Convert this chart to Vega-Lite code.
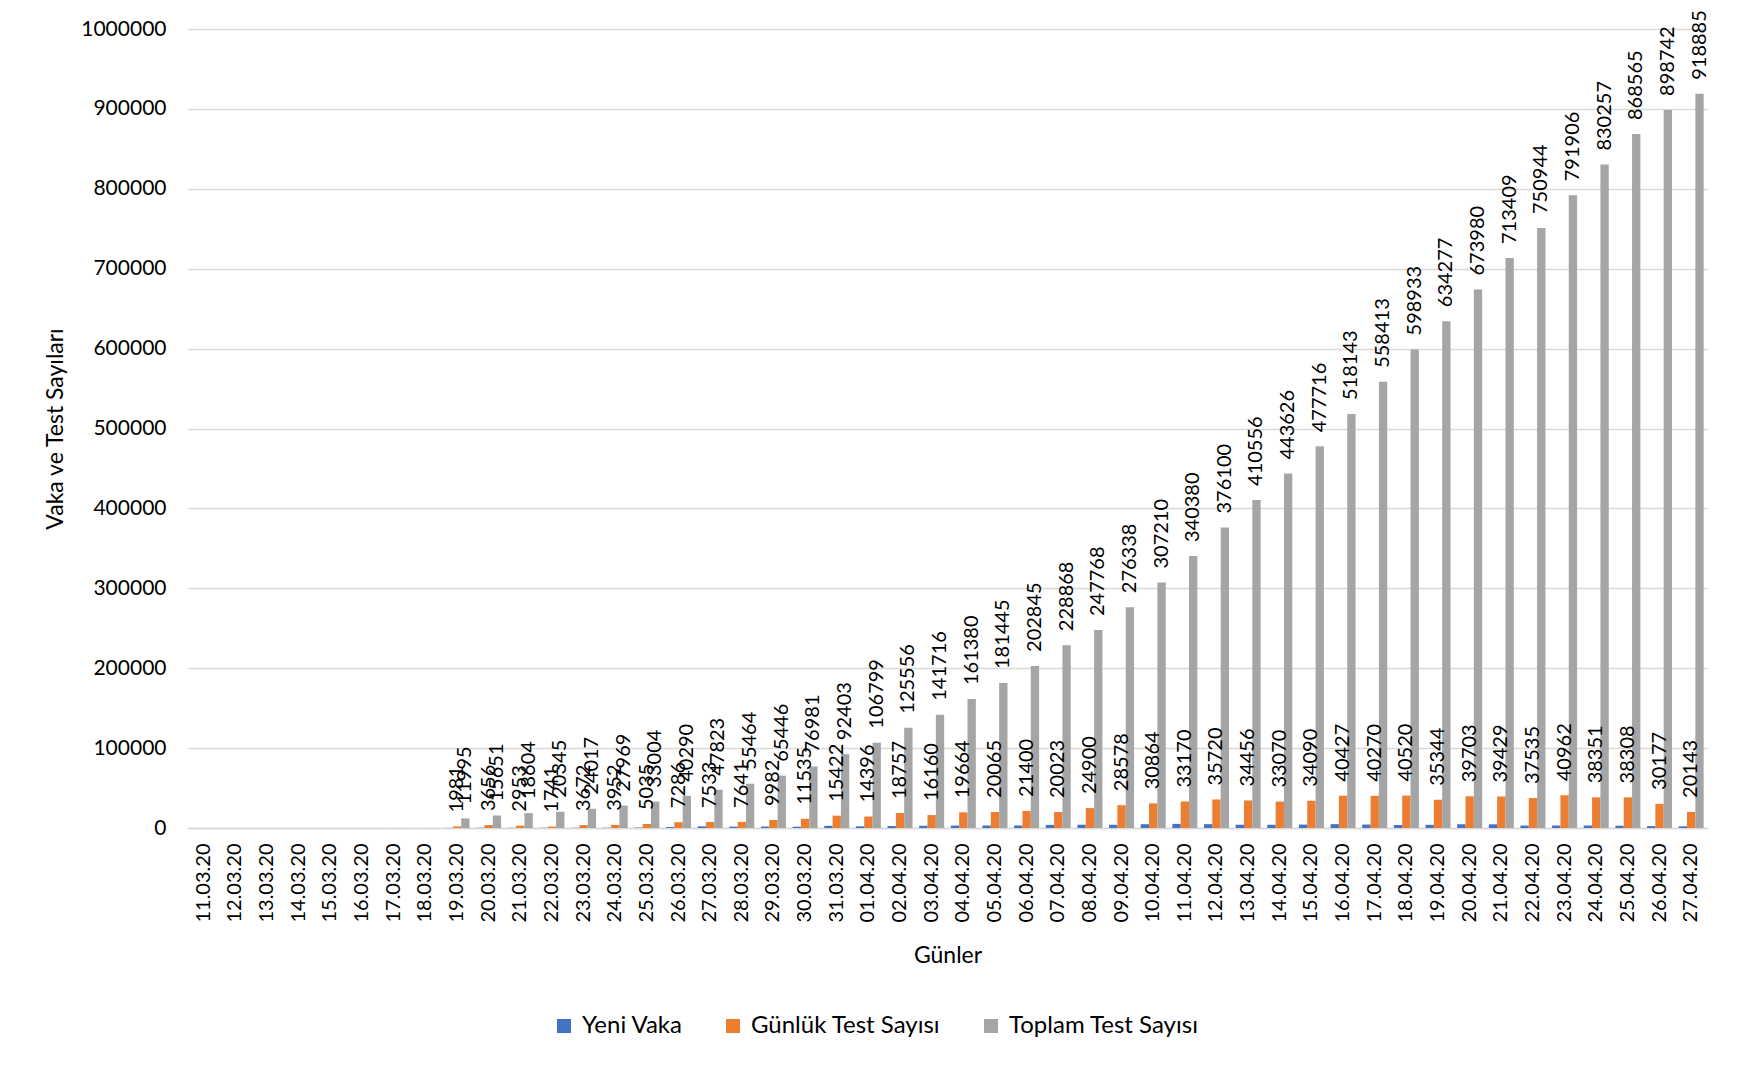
{
  "$schema": "https://vega.github.io/schema/vega-lite/v6.json",
  "width": 1519,
  "height": 799,
  "autosize": {"type": "none"},
  "padding": {"left": 188, "top": 29, "right": 32, "bottom": 240},
  "background": "white",
  "config": {
    "font": "Lato",
    "view": {"stroke": null}
  },
  "data": {"values": [
    {"d":"11.03.20","s":"Yeni Vaka","v":1},
    {"d":"12.03.20","s":"Yeni Vaka","v":0},
    {"d":"13.03.20","s":"Yeni Vaka","v":4},
    {"d":"14.03.20","s":"Yeni Vaka","v":0},
    {"d":"15.03.20","s":"Yeni Vaka","v":12},
    {"d":"16.03.20","s":"Yeni Vaka","v":29},
    {"d":"17.03.20","s":"Yeni Vaka","v":51},
    {"d":"18.03.20","s":"Yeni Vaka","v":93},
    {"d":"19.03.20","s":"Yeni Vaka","v":168},
    {"d":"20.03.20","s":"Yeni Vaka","v":311},
    {"d":"21.03.20","s":"Yeni Vaka","v":277},
    {"d":"22.03.20","s":"Yeni Vaka","v":289},
    {"d":"23.03.20","s":"Yeni Vaka","v":293},
    {"d":"24.03.20","s":"Yeni Vaka","v":343},
    {"d":"25.03.20","s":"Yeni Vaka","v":561},
    {"d":"26.03.20","s":"Yeni Vaka","v":1196},
    {"d":"27.03.20","s":"Yeni Vaka","v":2069},
    {"d":"28.03.20","s":"Yeni Vaka","v":1704},
    {"d":"29.03.20","s":"Yeni Vaka","v":1815},
    {"d":"30.03.20","s":"Yeni Vaka","v":1610},
    {"d":"31.03.20","s":"Yeni Vaka","v":2704},
    {"d":"01.04.20","s":"Yeni Vaka","v":2148},
    {"d":"02.04.20","s":"Yeni Vaka","v":2456},
    {"d":"03.04.20","s":"Yeni Vaka","v":2786},
    {"d":"04.04.20","s":"Yeni Vaka","v":3013},
    {"d":"05.04.20","s":"Yeni Vaka","v":3135},
    {"d":"06.04.20","s":"Yeni Vaka","v":3148},
    {"d":"07.04.20","s":"Yeni Vaka","v":3892},
    {"d":"08.04.20","s":"Yeni Vaka","v":4117},
    {"d":"09.04.20","s":"Yeni Vaka","v":4056},
    {"d":"10.04.20","s":"Yeni Vaka","v":4747},
    {"d":"11.04.20","s":"Yeni Vaka","v":5138},
    {"d":"12.04.20","s":"Yeni Vaka","v":4789},
    {"d":"13.04.20","s":"Yeni Vaka","v":4093},
    {"d":"14.04.20","s":"Yeni Vaka","v":4062},
    {"d":"15.04.20","s":"Yeni Vaka","v":4281},
    {"d":"16.04.20","s":"Yeni Vaka","v":4801},
    {"d":"17.04.20","s":"Yeni Vaka","v":4353},
    {"d":"18.04.20","s":"Yeni Vaka","v":3783},
    {"d":"19.04.20","s":"Yeni Vaka","v":3977},
    {"d":"20.04.20","s":"Yeni Vaka","v":4674},
    {"d":"21.04.20","s":"Yeni Vaka","v":4611},
    {"d":"22.04.20","s":"Yeni Vaka","v":3083},
    {"d":"23.04.20","s":"Yeni Vaka","v":3116},
    {"d":"24.04.20","s":"Yeni Vaka","v":3122},
    {"d":"25.04.20","s":"Yeni Vaka","v":2861},
    {"d":"26.04.20","s":"Yeni Vaka","v":2357},
    {"d":"27.04.20","s":"Yeni Vaka","v":2131},
    {"d":"19.03.20","s":"Günlük Test Sayısı","v":1981},
    {"d":"20.03.20","s":"Günlük Test Sayısı","v":3656},
    {"d":"21.03.20","s":"Günlük Test Sayısı","v":2953},
    {"d":"22.03.20","s":"Günlük Test Sayısı","v":1741},
    {"d":"23.03.20","s":"Günlük Test Sayısı","v":3672},
    {"d":"24.03.20","s":"Günlük Test Sayısı","v":3952},
    {"d":"25.03.20","s":"Günlük Test Sayısı","v":5035},
    {"d":"26.03.20","s":"Günlük Test Sayısı","v":7286},
    {"d":"27.03.20","s":"Günlük Test Sayısı","v":7533},
    {"d":"28.03.20","s":"Günlük Test Sayısı","v":7641},
    {"d":"29.03.20","s":"Günlük Test Sayısı","v":9982},
    {"d":"30.03.20","s":"Günlük Test Sayısı","v":11535},
    {"d":"31.03.20","s":"Günlük Test Sayısı","v":15422},
    {"d":"01.04.20","s":"Günlük Test Sayısı","v":14396},
    {"d":"02.04.20","s":"Günlük Test Sayısı","v":18757},
    {"d":"03.04.20","s":"Günlük Test Sayısı","v":16160},
    {"d":"04.04.20","s":"Günlük Test Sayısı","v":19664},
    {"d":"05.04.20","s":"Günlük Test Sayısı","v":20065},
    {"d":"06.04.20","s":"Günlük Test Sayısı","v":21400},
    {"d":"07.04.20","s":"Günlük Test Sayısı","v":20023},
    {"d":"08.04.20","s":"Günlük Test Sayısı","v":24900},
    {"d":"09.04.20","s":"Günlük Test Sayısı","v":28578},
    {"d":"10.04.20","s":"Günlük Test Sayısı","v":30864},
    {"d":"11.04.20","s":"Günlük Test Sayısı","v":33170},
    {"d":"12.04.20","s":"Günlük Test Sayısı","v":35720},
    {"d":"13.04.20","s":"Günlük Test Sayısı","v":34456},
    {"d":"14.04.20","s":"Günlük Test Sayısı","v":33070},
    {"d":"15.04.20","s":"Günlük Test Sayısı","v":34090},
    {"d":"16.04.20","s":"Günlük Test Sayısı","v":40427},
    {"d":"17.04.20","s":"Günlük Test Sayısı","v":40270},
    {"d":"18.04.20","s":"Günlük Test Sayısı","v":40520},
    {"d":"19.04.20","s":"Günlük Test Sayısı","v":35344},
    {"d":"20.04.20","s":"Günlük Test Sayısı","v":39703},
    {"d":"21.04.20","s":"Günlük Test Sayısı","v":39429},
    {"d":"22.04.20","s":"Günlük Test Sayısı","v":37535},
    {"d":"23.04.20","s":"Günlük Test Sayısı","v":40962},
    {"d":"24.04.20","s":"Günlük Test Sayısı","v":38351},
    {"d":"25.04.20","s":"Günlük Test Sayısı","v":38308},
    {"d":"26.04.20","s":"Günlük Test Sayısı","v":30177},
    {"d":"27.04.20","s":"Günlük Test Sayısı","v":20143},
    {"d":"19.03.20","s":"Toplam Test Sayısı","v":11995},
    {"d":"20.03.20","s":"Toplam Test Sayısı","v":15651},
    {"d":"21.03.20","s":"Toplam Test Sayısı","v":18604},
    {"d":"22.03.20","s":"Toplam Test Sayısı","v":20345},
    {"d":"23.03.20","s":"Toplam Test Sayısı","v":24017},
    {"d":"24.03.20","s":"Toplam Test Sayısı","v":27969},
    {"d":"25.03.20","s":"Toplam Test Sayısı","v":33004},
    {"d":"26.03.20","s":"Toplam Test Sayısı","v":40290},
    {"d":"27.03.20","s":"Toplam Test Sayısı","v":47823},
    {"d":"28.03.20","s":"Toplam Test Sayısı","v":55464},
    {"d":"29.03.20","s":"Toplam Test Sayısı","v":65446},
    {"d":"30.03.20","s":"Toplam Test Sayısı","v":76981},
    {"d":"31.03.20","s":"Toplam Test Sayısı","v":92403},
    {"d":"01.04.20","s":"Toplam Test Sayısı","v":106799},
    {"d":"02.04.20","s":"Toplam Test Sayısı","v":125556},
    {"d":"03.04.20","s":"Toplam Test Sayısı","v":141716},
    {"d":"04.04.20","s":"Toplam Test Sayısı","v":161380},
    {"d":"05.04.20","s":"Toplam Test Sayısı","v":181445},
    {"d":"06.04.20","s":"Toplam Test Sayısı","v":202845},
    {"d":"07.04.20","s":"Toplam Test Sayısı","v":228868},
    {"d":"08.04.20","s":"Toplam Test Sayısı","v":247768},
    {"d":"09.04.20","s":"Toplam Test Sayısı","v":276338},
    {"d":"10.04.20","s":"Toplam Test Sayısı","v":307210},
    {"d":"11.04.20","s":"Toplam Test Sayısı","v":340380},
    {"d":"12.04.20","s":"Toplam Test Sayısı","v":376100},
    {"d":"13.04.20","s":"Toplam Test Sayısı","v":410556},
    {"d":"14.04.20","s":"Toplam Test Sayısı","v":443626},
    {"d":"15.04.20","s":"Toplam Test Sayısı","v":477716},
    {"d":"16.04.20","s":"Toplam Test Sayısı","v":518143},
    {"d":"17.04.20","s":"Toplam Test Sayısı","v":558413},
    {"d":"18.04.20","s":"Toplam Test Sayısı","v":598933},
    {"d":"19.04.20","s":"Toplam Test Sayısı","v":634277},
    {"d":"20.04.20","s":"Toplam Test Sayısı","v":673980},
    {"d":"21.04.20","s":"Toplam Test Sayısı","v":713409},
    {"d":"22.04.20","s":"Toplam Test Sayısı","v":750944},
    {"d":"23.04.20","s":"Toplam Test Sayısı","v":791906},
    {"d":"24.04.20","s":"Toplam Test Sayısı","v":830257},
    {"d":"25.04.20","s":"Toplam Test Sayısı","v":868565},
    {"d":"26.04.20","s":"Toplam Test Sayısı","v":898742},
    {"d":"27.04.20","s":"Toplam Test Sayısı","v":918885}
  ]},
  "encoding": {
    "x": {
      "field": "d", "type": "nominal", "sort": null,
      "scale": {"paddingInner": 0.21, "paddingOuter": 0.105},
      "axis": {
        "title": "Günler", "titleFont": "Lato", "titleFontSize": 23, "titleFontWeight": "normal", "titleColor": "black", "titlePadding": 22,
        "labelAngle": -90, "labelFont": "Lato", "labelFontSize": 20, "labelColor": "black", "labelPadding": 15,
        "ticks": false, "domainColor": "#D9D9D9", "domainWidth": 1.5, "grid": false
      }
    },
    "xOffset": {"field": "s", "type": "nominal", "scale": {"domain": ["Yeni Vaka", "Günlük Test Sayısı", "Toplam Test Sayısı"]}},
    "y": {
      "field": "v", "type": "quantitative",
      "scale": {"domain": [0, 1000000], "nice": false},
      "axis": {
        "title": "Vaka ve Test Sayıları", "titleFont": "Lato", "titleFontSize": 23, "titleFontWeight": "normal", "titleColor": "black", "titlePadding": 13,
        "values": [0,100000,200000,300000,400000,500000,600000,700000,800000,900000,1000000],
        "format": "d", "labelFont": "Lato", "labelFontSize": 21, "labelColor": "black", "labelPadding": 22,
        "ticks": false, "domain": false, "gridColor": "#D9D9D9", "gridWidth": 1.5
      }
    }
  },
  "layer": [
    {
      "mark": {"type": "bar"},
      "encoding": {
        "color": {
          "field": "s", "type": "nominal",
          "scale": {"domain": ["Yeni Vaka", "Günlük Test Sayısı", "Toplam Test Sayısı"], "range": ["#4472C4", "#ED7D31", "#A5A5A5"]},
          "legend": {
            "title": null, "orient": "none", "direction": "horizontal", "legendX": 364, "legendY": 985,
            "symbolType": "square", "symbolSize": 196, "symbolStrokeWidth": 0, "symbolOpacity": 1,
            "labelFont": "Lato", "labelFontSize": 24, "labelColor": "black", "labelOffset": 6, "columnPadding": 38,
            "labelLimit": 400
          }
        }
      }
    },
    {
      "transform": [{"filter": {"field": "s", "oneOf": ["Günlük Test Sayısı", "Toplam Test Sayısı"]}}],
      "mark": {"type": "text", "angle": -90, "align": "left", "baseline": "middle", "dx": 14, "font": "Lato", "fontSize": 20, "color": "black"},
      "encoding": {
        "text": {"field": "v", "type": "quantitative", "format": "d"}
      }
    }
  ]
}
